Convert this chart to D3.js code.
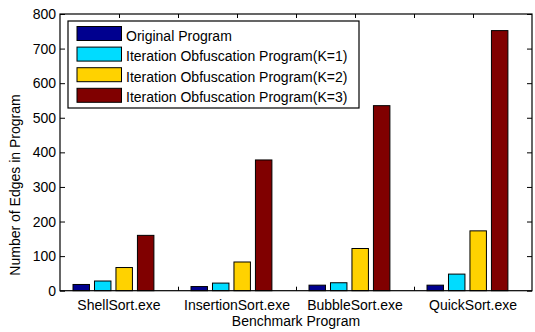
<!DOCTYPE html>
<html>
<head>
<meta charset="utf-8">
<script src="https://cdn.jsdelivr.net/npm/d3@7"></script>
<style>
  body { margin: 0; background: #fff; }
  text { font-family: Arial, "Liberation Sans", sans-serif; fill: #000; }
</style>
</head>
<body>
<div id="chart"></div>
<script>
// 数据
const categories = ['ShellSort.exe', 'InsertionSort.exe', 'BubbleSort.exe', 'QuickSort.exe'];
const seriesNames = [
	'Original Program',
	'Iteration Obfuscation Program(K=1)',
	'Iteration Obfuscation Program(K=2)',
	'Iteration Obfuscation Program(K=3)'
];
const original = [18, 12, 16, 16];
const iterK1 = [28, 22, 23, 48];
const iterK2 = [67, 83, 122, 173];
const iterK3 = [160, 378, 535, 752];
const yTicks = [0, 100, 200, 300, 400, 500, 600, 700, 800];
const colors = ['#00008f', '#00dcff', '#ffd200', '#800000'];

const series = [original, iterK1, iterK2, iterK3];

const W = 535, H = 332;
const pLeft = 60, pRight = 532, pTop = 14, pBottom = 290.7;

const svg = d3.select('#chart').append('svg')
	.attr('width', W)
	.attr('height', H);

const x = d3.scaleLinear().domain([0.5, 4.5]).range([pLeft, pRight]);
const y = d3.scaleLinear().domain([0, 800]).range([pBottom, pTop]);

// 刻度 (matlab 风格, 向内)
const minorX = d3.range(1, 4.01, 0.5);
svg.append('g')
	.attr('transform', `translate(0,${pTop})`)
	.call(d3.axisTop(x).tickValues(minorX).tickSize(-4).tickFormat(''))
	.call(g => g.select('.domain').remove());
svg.append('g')
	.attr('transform', `translate(0,${pBottom})`)
	.call(d3.axisBottom(x).tickValues(minorX).tickSize(-4).tickFormat(''))
	.call(g => g.select('.domain').remove());
svg.append('g')
	.attr('transform', `translate(${pRight},0)`)
	.call(d3.axisRight(y).tickValues(yTicks).tickSize(-5).tickFormat(''))
	.call(g => g.select('.domain').remove());
const yAxis = svg.append('g')
	.attr('transform', `translate(${pLeft},0)`)
	.call(d3.axisLeft(y).tickValues(yTicks).tickSize(-5).tickPadding(4))
	.call(g => g.select('.domain').remove());
yAxis.attr('font-family', null).attr('font-size', null);
yAxis.selectAll('text').style('font-size', '14px');

// 柱子
const shift = -0.047, step = 0.182, bw = 0.148;
series.forEach((vals, j) => {
	svg.append('g').selectAll('rect')
		.data(vals)
		.enter().append('rect')
		.attr('x', (d, i) => x(i + 1 + shift + (j - 1.5) * step - bw / 2) + 0.5)
		.attr('width', x(bw) - x(0) - 1)
		.attr('y', d => y(d))
		.attr('height', d => y(0) - y(d))
		.attr('fill', colors[j])
		.attr('stroke', '#000')
		.attr('stroke-width', 1);
});

// 坐标框
svg.append('rect')
	.attr('x', pLeft).attr('y', pTop)
	.attr('width', pRight - pLeft).attr('height', pBottom - pTop)
	.attr('fill', 'none').attr('stroke', '#000').attr('stroke-width', 1.2);

// x 轴标签
svg.append('g').selectAll('text')
	.data(categories)
	.enter().append('text')
	.attr('x', (d, i) => x(i + 1))
	.attr('y', 310)
	.attr('text-anchor', 'middle')
	.style('font-size', '14px')
	.text(d => d);

svg.append('text')
	.attr('x', (pLeft + pRight) / 2)
	.attr('y', 326)
	.attr('text-anchor', 'middle')
	.style('font-size', '14px')
	.text('Benchmark Program');

// y 轴标题, 原图中偏下
svg.append('text')
	.attr('transform', 'translate(20,185) rotate(-90)')
	.attr('text-anchor', 'middle')
	.style('font-size', '14px')
	.text('Number of Edges in Program');

// 图例
const lg = svg.append('g');
lg.append('rect')
	.attr('x', 68).attr('y', 21)
	.attr('width', 291).attr('height', 87)
	.attr('fill', '#fff').attr('stroke', '#000').attr('stroke-width', 1.2);
seriesNames.forEach((name, j) => {
	const yy = 26.5 + j * 20.6;
	lg.append('rect')
		.attr('x', 77).attr('y', yy)
		.attr('width', 44.5).attr('height', 14)
		.attr('fill', colors[j]).attr('stroke', '#000').attr('stroke-width', 1);
	lg.append('text')
		.attr('x', 126).attr('y', yy + 14)
		.style('font-size', '14px')
		.text(name);
});
</script>
</body>
</html>
